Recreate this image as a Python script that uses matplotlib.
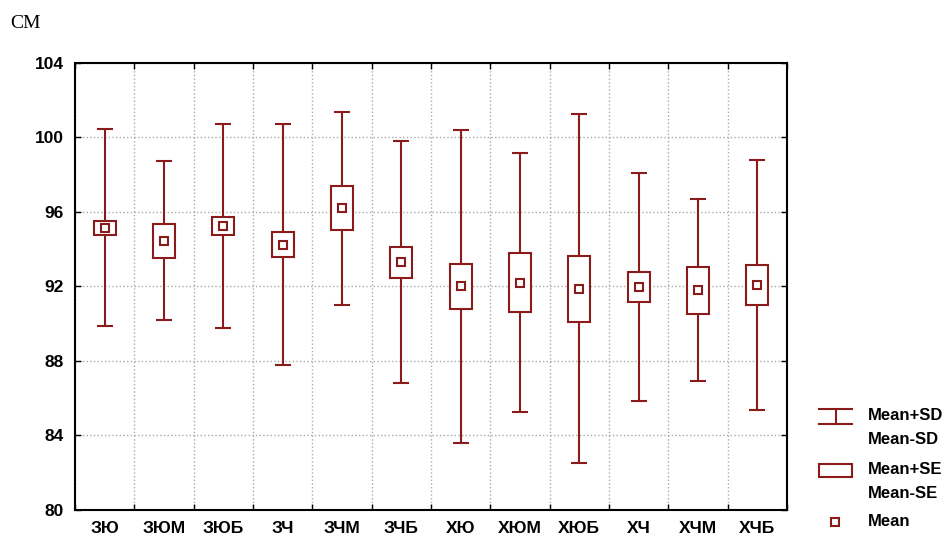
import numpy as np
import matplotlib
matplotlib.use('Agg')
from matplotlib import pyplot as plt
from matplotlib.patches import Rectangle

groups = ['ЗЮ', 'ЗЮМ', 'ЗЮБ', 'ЗЧ', 'ЗЧМ', 'ЗЧБ', 'ХЮ', 'ХЮМ', 'ХЮБ', 'ХЧ', 'ХЧМ', 'ХЧБ']
means = [95.15, 94.45, 95.25, 94.25, 96.2, 93.3, 92.0, 92.2, 91.88, 91.97, 91.8, 92.08]
sds = [5.28, 4.27, 5.48, 6.47, 5.18, 6.5, 8.4, 6.95, 9.38, 6.14, 4.88, 6.73]
ses = [0.38, 0.91, 0.47, 0.69, 1.17, 0.83, 1.19, 1.58, 1.76, 0.79, 1.27, 1.05]
yticks = [80, 84, 88, 92, 96, 100, 104]

red = '#8b1a1a'
plt.rcParams['font.family'] = ['Liberation Sans', 'DejaVu Sans']

fig = plt.figure(figsize=(9.5, 5.36), dpi=100)
ax = fig.add_axes([75 / 950, 26 / 536, 712 / 950, 447 / 536])

x = np.arange(len(groups))
means = np.array(means)
sds = np.array(sds)
ses = np.array(ses)

# whiskers: mean +/- SD
ax.errorbar(x, means, yerr=sds, fmt='none', ecolor=red, elinewidth=1.5,
            capsize=5.5, capthick=1.5, zorder=3)
# boxes: mean +/- SE
ax.bar(x, 2 * ses, bottom=means - ses, width=0.37, facecolor='white',
       edgecolor=red, linewidth=1.5, zorder=4)
# mean markers
ax.plot(x, means, 's', ms=6, mfc='white', mec=red, mew=1.5, zorder=5)

ax.set_xlim(-0.5, len(groups) - 0.5)
ax.set_ylim(80, 104)
ax.set_yticks(yticks)
ax.set_yticklabels([str(v) for v in yticks], fontsize=12.5, fontweight='bold')
ax.set_xticks(x)
ax.set_xticklabels(groups, fontsize=12.5, fontweight='bold')
ax.set_xticks(np.arange(len(groups) + 1) - 0.5, minor=True)

ax.tick_params(axis='x', which='major', length=0, pad=8)
ax.tick_params(axis='x', which='minor', direction='in', length=4, top=True, width=1)
ax.tick_params(axis='y', which='major', direction='in', length=4, right=True, width=1, pad=8)
ax.grid(True, axis='y', which='major', linestyle=':', color='#aaaaaa', linewidth=1)
ax.grid(True, axis='x', which='minor', linestyle=':', color='#aaaaaa', linewidth=1)
ax.set_axisbelow(True)
for s in ax.spines.values():
    s.set_linewidth(1.5)

# overlay in pixel units for the unit label and the legend
ov = fig.add_axes([0, 0, 1, 1], facecolor='none')
ov.set_xlim(0, 950)
ov.set_ylim(536, 0)
ov.axis('off')

ov.text(10, 24, 'СМ', fontsize=14, family=['Liberation Serif', 'DejaVu Serif'],
        va='center', ha='left')

# legend: SD whisker
ov.plot([819, 852], [409, 409], color=red, lw=1.5)
ov.plot([819, 852], [424, 424], color=red, lw=1.5)
ov.plot([835.5, 835.5], [409, 424], color=red, lw=1.5)
ov.text(868, 416, 'Mean+SD', fontsize=12, fontweight='bold', va='center')
ov.text(868, 440, 'Mean-SD', fontsize=12, fontweight='bold', va='center')
# legend: SE box
ov.add_patch(Rectangle((819, 464), 33, 13, facecolor='white', edgecolor=red, lw=1.5))
ov.text(868, 470, 'Mean+SE', fontsize=12, fontweight='bold', va='center')
ov.text(868, 493, 'Mean-SE', fontsize=12, fontweight='bold', va='center')
# legend: mean marker
ov.plot([835], [522], 's', ms=6, mfc='white', mec=red, mew=1.5)
ov.text(868, 522, 'Mean', fontsize=12, fontweight='bold', va='center')

fig.savefig('out.png', dpi=100)
